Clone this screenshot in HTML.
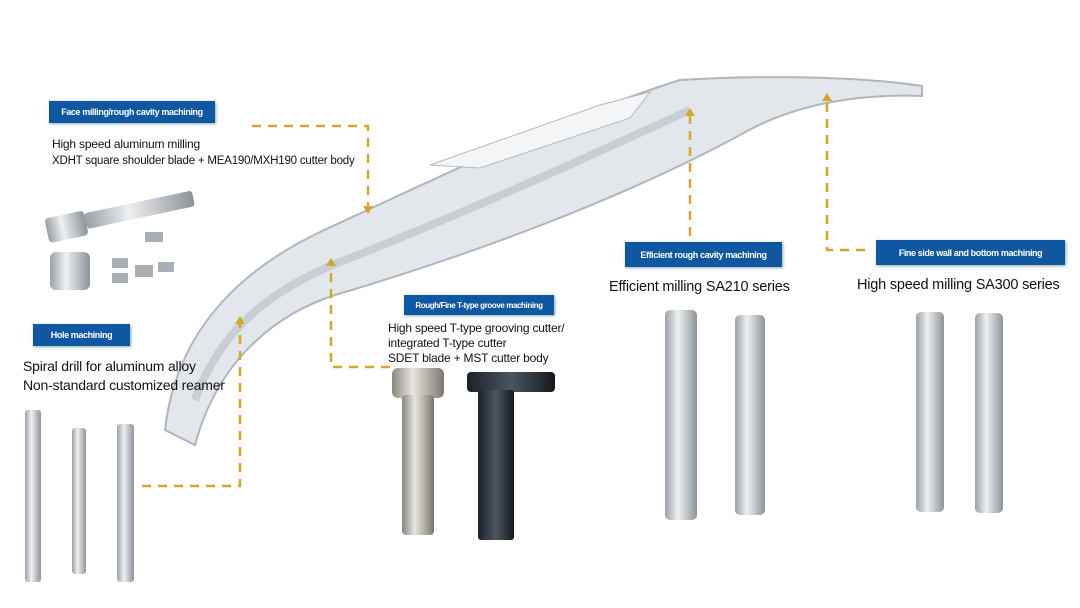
<!DOCTYPE html>
<html><head><meta charset="utf-8"><style>
body{margin:0;width:1080px;height:608px;background:#fff;overflow:hidden;position:relative;font-family:"Liberation Sans",sans-serif}
.lb{position:absolute;background:#0f57a0;color:#fff;font-weight:bold;font-size:9px;display:flex;align-items:center;justify-content:center;white-space:nowrap;letter-spacing:-0.4px;box-shadow:1px 1px 3px #8aa}
.t{position:absolute;color:#111;white-space:nowrap;letter-spacing:-0.2px}
</style></head><body>
<svg width="1080" height="608" style="position:absolute;left:0;top:0">
<defs>
<linearGradient id="m" x1="0" x2="1"><stop offset="0" stop-color="#9aa0a6"/><stop offset=".4" stop-color="#eef0f2"/><stop offset="1" stop-color="#8d9399"/></linearGradient>
<linearGradient id="d" x1="0" x2="1"><stop offset="0" stop-color="#1c2126"/><stop offset=".5" stop-color="#4a5560"/><stop offset="1" stop-color="#15191d"/></linearGradient>
<linearGradient id="g" x1="0" x2="1"><stop offset="0" stop-color="#8a8780"/><stop offset=".4" stop-color="#e8e6e0"/><stop offset="1" stop-color="#7a776f"/></linearGradient>
</defs>
<path d="M165,430 C175,340 230,275 320,232 C450,172 560,118 680,80 C780,74 870,78 922,86 L922,96 C870,94 800,100 740,135 C620,200 470,255 335,295 C265,318 215,370 195,445 Z" fill="#e3e6ea" stroke="#b0b6be" stroke-width="2"/>
<path d="M195,400 C220,330 270,290 340,262 C460,215 570,165 690,110" fill="none" stroke="#c9ced4" stroke-width="8"/>
<path d="M430,165 L600,105 L650,92 L630,118 L480,168 Z" fill="#f4f5f7" stroke="#b5bbc3"/>
<g stroke="#d2a72d" stroke-width="2.5" stroke-dasharray="9,7" fill="none">
<path d="M252,126 H368 V208"/>
<path d="M142,486 H240 V322"/>
<path d="M390,367 H331 V264"/>
<path d="M690,236 V114"/>
<path d="M865,250 H827 V99"/>
</g>
<g fill="#d2a72d">
<path d="M363,206 L373,206 L368,214Z"/><path d="M235,324 L245,324 L240,316Z"/><path d="M326,266 L336,266 L331,258Z"/><path d="M685,116 L695,116 L690,108Z"/><path d="M822,101 L832,101 L827,93Z"/>
</g>
<g transform="rotate(-12 110 215)"><rect x="45" y="205" width="40" height="25" rx="4" fill="url(#m)"/><rect x="85" y="208" width="110" height="16" rx="3" fill="url(#m)"/></g>
<rect x="50" y="252" width="40" height="38" rx="6" fill="url(#m)"/>
<g fill="#a9afb5"><rect x="145" y="232" width="18" height="10"/><rect x="112" y="258" width="16" height="10"/><rect x="135" y="265" width="18" height="12"/><rect x="158" y="262" width="16" height="10"/><rect x="112" y="273" width="16" height="10"/></g>
<rect x="25" y="410" width="16" height="172" rx="3" fill="url(#m)"/>
<rect x="72" y="428" width="14" height="146" rx="3" fill="url(#m)"/>
<rect x="117" y="424" width="17" height="158" rx="3" fill="url(#m)"/>
<rect x="392" y="368" width="52" height="30" rx="6" fill="url(#g)"/><rect x="402" y="395" width="32" height="140" rx="4" fill="url(#g)"/>
<rect x="467" y="372" width="88" height="20" rx="4" fill="url(#d)"/><rect x="478" y="390" width="36" height="150" rx="3" fill="url(#d)"/>
<rect x="665" y="310" width="32" height="210" rx="5" fill="url(#m)"/>
<rect x="735" y="315" width="30" height="200" rx="5" fill="url(#m)"/>
<rect x="916" y="312" width="28" height="200" rx="5" fill="url(#m)"/>
<rect x="975" y="313" width="28" height="200" rx="5" fill="url(#m)"/>
</svg>
<div class="lb" style="left:49px;top:101px;width:166px;height:22px">Face milling/rough cavity machining</div>
<div class="t" style="left:52px;top:137px;font-size:12px">High speed aluminum milling</div>
<div class="t" style="left:52px;top:155px;font-size:11.5px">XDHT square shoulder blade + MEA190/MXH190 cutter body</div>
<div class="lb" style="left:33px;top:324px;width:97px;height:22px">Hole machining</div>
<div class="t" style="left:23px;top:358px;font-size:14px">Spiral drill for aluminum alloy</div>
<div class="t" style="left:23px;top:377px;font-size:14px">Non-standard customized reamer</div>
<div class="lb" style="left:404px;top:295px;width:150px;height:20px;font-size:8px">Rough/Fine T-type groove machining</div>
<div class="t" style="left:388px;top:321px;font-size:12px;line-height:15px">High speed T-type grooving cutter/<br>integrated T-type cutter<br>SDET blade + MST cutter body</div>
<div class="lb" style="left:625px;top:242px;width:157px;height:25px">Efficient rough cavity machining</div>
<div class="t" style="left:609px;top:279px;font-size:14.5px">Efficient milling SA210 series</div>
<div class="lb" style="left:876px;top:240px;width:189px;height:25px">Fine side wall and bottom machining</div>
<div class="t" style="left:857px;top:277px;font-size:14.5px">High speed milling SA300 series</div>
</body></html>
